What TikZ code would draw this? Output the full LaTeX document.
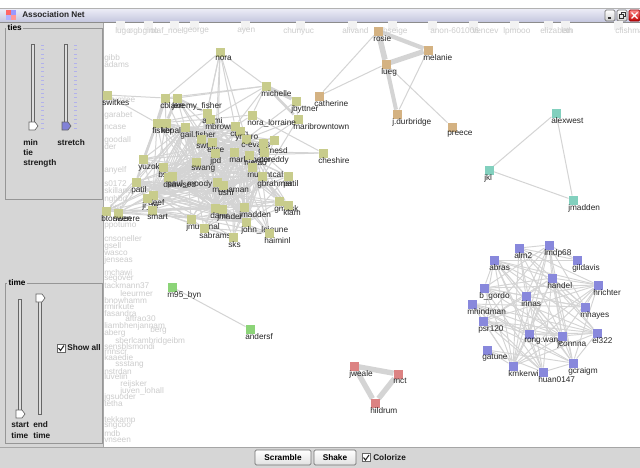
\documentclass[tikz,border=0pt]{standalone}
\usepackage{fontspec}
\setmainfont{Liberation Sans}
\pgfdeclarelayer{bg}
\pgfdeclarelayer{edges}
\pgfsetlayers{bg,edges,main}

\definecolor{panel}{RGB}{214,214,214}
\definecolor{boxline}{RGB}{150,150,150}
\definecolor{olive}{RGB}{200,204,140}
\definecolor{tanc}{RGB}{212,178,130}
\definecolor{nteal}{RGB}{130,208,190}
\definecolor{nblue}{RGB}{136,136,220}
\definecolor{nred}{RGB}{220,130,130}
\definecolor{ngreen}{RGB}{140,212,120}
\definecolor{edgec}{RGB}{212,212,212}
\definecolor{tbtop}{RGB}{238,239,248}
\definecolor{tbbot}{RGB}{196,198,222}
\definecolor{thumbblue}{RGB}{130,130,215}

\tikzset{
  sq/.style={minimum size=6.75pt, inner sep=0pt, outer sep=0pt},
  lbl/.style={anchor=north west, inner sep=0pt, font=\fontsize{6.2}{7}\selectfont, text=black!85},
  faint/.style={anchor=west, inner sep=0pt, font=\fontsize{6.2}{7}\selectfont, text=black!20},
  ghostsq/.style={minimum size=6.75pt, inner sep=0pt, fill=black!5},
  edge/.style={draw=edgec, line width=0.75pt},
  uitext/.style={anchor=west, inner sep=0pt, font=\bfseries\fontsize{6.2}{7}\selectfont, text=black!90},
  grouplbl/.style={anchor=west, inner sep=1pt, fill=panel, font=\bfseries\fontsize{6.2}{7}\selectfont},
  groupbox/.style={draw=boxline, line width=0.6pt},
  track/.style={draw=black!60, fill=panel!80, line width=0.5pt},
  thumb/.style={draw=black!60, line width=0.5pt},
  tick/.style={draw=black!25!blue!30, line width=0.6pt},
  button/.style={draw=black!55, line width=0.6pt, top color=white, bottom color=black!12, rounded corners=1pt},
  chk/.style={draw=black!60, fill=white, line width=0.5pt},
}

% one graph vertex: name, x, y, colour, caption
\newcommand\gv[5]{%
  \node[sq, fill=#4] (#1) at (#2,#3) {};
  \node[lbl] (#1-l) at ({#2-5},{#3+4}) {#5};}

% pentagon thumb of a vertical slider, pointing right
\newcommand\thumbat[3]{%
  \draw[thumb, fill=#3] ({#1-4},{#2-4}) -- ({#1+2},{#2-4}) -- ({#1+5},#2) -- ({#1+2},{#2+4}) -- ({#1-4},{#2+4}) -- cycle;}

\begin{document}
\begin{tikzpicture}[x=0.75pt,y=-0.75pt]
\useasboundingbox (0,0) rectangle (640,468);
\begin{pgfonlayer}{bg}
  \fill[white] (0,0) rectangle (640,468);
\end{pgfonlayer}

% ---------- title bar ----------
\shade[top color=tbtop, bottom color=tbbot] (0,8) rectangle (640,22);
\draw[black!45, line width=0.6pt] (0,22.3) -- (640,22.3);
\draw[black!30, line width=0.4pt] (0,8) -- (640,8);
\fill[red!60!white] (6,10) rectangle (11,15);
\fill[blue!40!white] (11,10) rectangle (16,15);
\fill[blue!30!white] (6,15) rectangle (11,20);
\fill[red!40!white] (11,15) rectangle (16,20);
\node[anchor=west, inner sep=0pt, font=\bfseries\fontsize{6.2}{7}\selectfont, text=black!85] (title) at (22,15) {Association Net};
% window buttons
\draw[black!55, line width=0.5pt, top color=white, bottom color=black!18, rounded corners=1pt] (605,10) rectangle (615,21);
\draw[black!80, line width=0.9pt] (607.5,18) -- (611,18);
\draw[black!55, line width=0.5pt, top color=white, bottom color=black!18, rounded corners=1pt] (617,10) rectangle (627,21);
\draw[black!80, line width=0.5pt] (619.5,14.5) rectangle (623.5,18.5);
\draw[black!80, line width=0.5pt] (621,14.5) -- (621,12.5) -- (625,12.5) -- (625,16.5) -- (623.5,16.5);
\draw[red!60!black, line width=0.5pt, top color=red!45, bottom color=red!75!black, rounded corners=1pt] (629,10) rectangle (640,21);
\draw[white, line width=1pt] (631.5,12.5) -- (637.5,18.5) (631.5,18.5) -- (637.5,12.5);

% ---------- left control panel ----------
\fill[panel] (0,22.6) rectangle (103.5,447);
\draw[black!35, line width=0.6pt] (103.5,22.6) -- (103.5,447);

% ties group
\draw[groupbox] (5,28) rectangle (102,199);
\node[grouplbl] (tiesl) at (6,28) {ties};
\draw[track] (31.5,44) rectangle (34.5,128);
\draw[track] (64.5,44) rectangle (67.5,128);
\foreach \t in {0,...,19} {
  \draw[tick] (41,{45.5+\t*4.35}) -- (43.5,{45.5+\t*4.35});
  \draw[tick] (74,{45.5+\t*4.35}) -- (76.5,{45.5+\t*4.35});
}
\thumbat{33}{126}{white}
\thumbat{66}{126}{thumbblue}
\node[uitext] (mintxt) at (23,143) {min};
\node[uitext] (tietxt) at (23,153) {tie};
\node[uitext] (strtxt) at (23,163) {strength};
\node[uitext] (stretchtxt) at (57,143) {stretch};

% time group
\draw[groupbox] (5,283) rectangle (102,443);
\node[grouplbl] (timel) at (7,283) {time};
\draw[track] (18.5,299) rectangle (21.5,411);
\draw[track] (38.5,301) rectangle (41.5,414);
\thumbat{20}{414}{white}
\thumbat{40}{298}{white}
\draw[chk] (57,344) rectangle (65,352);
\draw[black!85, line width=0.8pt] (58.5,348) -- (60.5,350.5) -- (64,345.5);
\node[uitext] (showall) at (67,348) {Show all};
\node[uitext] (starttxt) at (11,425) {start};
\node[uitext] (time1) at (11,436) {time};
\node[uitext] (endtxt) at (33,425) {end};
\node[uitext] (time2) at (33,436) {time};

% ---------- bottom bar ----------
\fill[panel] (0,447) rectangle (640,468);
\draw[black!35, line width=0.6pt] (0,447) -- (640,447);
\draw[button] (255,450) rectangle (311,465);
\node[anchor=center, inner sep=0pt, font=\bfseries\fontsize{6.2}{7}\selectfont] (scramble) at (283,457.5) {Scramble};
\draw[button] (314,450) rectangle (356,465);
\node[anchor=center, inner sep=0pt, font=\bfseries\fontsize{6.2}{7}\selectfont] (shake) at (335,457.5) {Shake};
\draw[chk] (362,453.5) rectangle (370,461.5);
\draw[black!85, line width=0.8pt] (363.5,457.5) -- (365.5,460) -- (369,455);
\node[uitext] (colorize) at (373,457.5) {Colorize};

% ---------- hidden (greyed) vertices along the edges ----------
\foreach \x in {120,148,174,194,245,300,352,392,432,473,514,548,565,618}
  \node[ghostsq] at (\x,25) {};
\foreach \x/\t in {115/lugo,128/σgbgino,150/olaf\_noel,183/george,237/ayen,283/chunyuc,
                   342/alivand,381/lbseige,430/anon-601006,472/vencev,503/lpmooo,540/elizabeth,
                   561/lan,615/cfishman}
  \node[faint] at (\x,31) {\t};
\foreach \x/\y/\t in {
  104/58/gibb,104/65/adams,106/100/plumlee,104/115/garabet,104/127/ncase,104/140/goodall,
  104/147/der,104/170/anyelf,104/184/s0172,104/191/skillane,104/199/nghbd,110/208/btg,
  104/226/ppotumo,104/239/cnsoneller,104/246/gsell,104/253/wasco,104/260/jenseas,
  104/273/mchawi,104/279/segover,104/286/tackmann37,120/294/leeurmer,104/301/bnowhamm,
  104/307/rmirkute,104/314/fasandra,125/319/aftrao30,104/326/liambhenjannam,150/330/berg,
  104/333/aberg,115/341/sberlcambridgeibm,104/347/sensblsmondi,104/352/rnnscr,
  104/358/kaaedie,115/365/ssstang,104/372/nstrdan,104/377/luvelin,120/384/reijsker,
  120/391/juven\_lohall,104/397/jgsuoder,104/404/tetha,104/420/tekkamp,104/426/sngcoo,
  104/434/mdb,104/440/vnseen}
  \node[faint] at (\x,\y) {\t};

% ---------- olive community ----------
\foreach \n/\x/\y/\t in {
  nora/220/52/nora, michelle/266/86/michelle, switkes/107/95/switkes,
  cblake/165/98/cblake, jfisher/177/98/jeremy\_fisher, jbyttner/296/101/jbyttner,
  maribrown/298/119/maribrowntown, noralor/252/115/nora\_lorraine, cheshire/323/153/cheshire,
  atomi/207/113/atomi, mbrown/210/119/mbrown, fisher/157/123/fisher, kbpal/166/123/kbpal,
  gailf/185/127/gail.fisher, craig/235/126/craig, ymgro/240/131/ymgro, swt/201/139/swt,
  elise/212/142/elise, cevans/246/139/c-evans, grimesd/263/143/grimesd, rx/274/140/,
  coreddy/264/152/coreddy, jpd/215/153/jpd, markp/234/152/mark\_peter, nietao/249/155/nietao,
  swang/196/162/swang, mutantcal/252/167/mutantcal, patilr/288/176/patil,
  gbrahmer/262/176/gbrahmer, yuzok/143/159/yuzok, bxs/163/167/bs, dsawsed/168/177/dsawsed,
  paulm/172/176/paul\_moody, patill/136/182/patil, mahaman/217/182/mahaman,
  ushr/223/185/ushr, deef/153/195/deef, jrte/147/198/jr\_te, scart/152/210/smart,
  btoneen/106/211/btoneen, sweere/118/213/sweere, damkr/215/208/danir, jmader/222/209/jmader,
  jmadden2/244/207/jmadden, gmask/279/201/gmask, klam/288/205/klam,
  johnl/246/222/john\_lejeune, jmummal/191/219/jmummal, sabrams/204/228/sabrams,
  sks/233/237/sks, haiminl/269/233/haiminl}
  {\gv{\n}{\x}{\y}{olive}{\t}}

% ---------- tan community ----------
\gv{rosie}{378}{31}{tanc}{rosie}
\gv{melanie}{428}{50}{tanc}{melanie}
\gv{lueg}{386}{64}{tanc}{lueg}
\gv{catherine}{319}{96}{tanc}{catherine}
\gv{jdurb}{397}{114}{tanc}{j.durbridge}
\gv{preece}{452}{127}{tanc}{preece}

% ---------- teal community ----------
\gv{alexwest}{556}{113}{nteal}{alexwest}
\gv{jkl}{489}{170}{nteal}{jkl}
\gv{jmadden}{573}{200}{nteal}{jmadden}

% ---------- green pair ----------
\gv{m95}{172}{287}{ngreen}{m95\_byn}
\gv{andersf}{250}{329}{ngreen}{andersf}

% ---------- red community ----------
\gv{jweale}{354}{366}{nred}{jweale}
\gv{mct}{398}{374}{nred}{mct}
\gv{hildrum}{375}{403}{nred}{hildrum}

% ---------- blue community ----------
\foreach \n/\x/\y/\t in {
  alm2/519/248/alm2, lmdp68/549/245/lmdp68, abras/494/260/abras, gildavis/577/260/gildavis,
  handel/552/278/handel, hrichter/598/285/hrichter, bgordo/484/288/b\_gordo,
  irinas/526/296/irinas, mhindman/472/304/mhindman, mhayes/585/307/mhayes,
  psr120/483/321/psr120, el322/597/333/el322, rongwang/529/334/rong.wang,
  jconnna/562/336/jconnna, gatune/487/350/gatune, kmkerwin/513/366/kmkerwin,
  gcraigm/573/363/gcraigm, huan/543/372/huan0147}
  {\gv{\n}{\x}{\y}{nblue}{\t}}

% ---------- ties ----------
\begin{pgfonlayer}{edges}
  % dense core of the olive community
  \def\core{atomi,mbrown,fisher,kbpal,gailf,craig,ymgro,swt,elise,cevans,grimesd,rx,coreddy,jpd,markp,nietao,swang,mutantcal,patilr,gbrahmer,yuzok,bxs,dsawsed,paulm,patill,mahaman,ushr,deef,jrte,scart,btoneen,sweere,damkr,jmader,jmadden2,gmask,klam,johnl,jmummal,sabrams,sks,haiminl}
  \foreach \a [count=\i] in \core {
    \foreach \b [count=\j] in \core {
      \ifnum\j>\i
        \pgfmathtruncatemacro\h{mod(\i*7+\j*5+\i*\j,5)}
        \ifnum\h=0 \draw[edge] (\a) -- (\b); \fi
      \fi
    }
  }
  % ties from the outer olive vertices
  \foreach \a/\b in {nora/cblake,nora/michelle,nora/atomi,nora/jpd,nora/swt,nora/craig,
      nora/mahaman,nora/cevans,michelle/cblake,michelle/jfisher,michelle/craig,michelle/noralor,
      michelle/mbrown,switkes/cblake,switkes/fisher,cblake/jfisher,cblake/kbpal,cblake/yuzok,
      cblake/swang,jfisher/atomi,jfisher/gailf,jfisher/swt,jfisher/jpd,jfisher/markp,
      jbyttner/maribrown,jbyttner/cevans,maribrown/grimesd,maribrown/cevans,maribrown/jmadden2,
      noralor/cheshire,noralor/mbrown,noralor/elise,cheshire/coreddy,cheshire/nietao,
      fisher/kbpal,fisher/yuzok,kbpal/gailf}
    \draw[edge] (\a) -- (\b);
  \draw[edge, line width=2.6pt] (michelle) -- (jbyttner);
  \draw[edge, line width=2pt] (michelle) -- (maribrown);
  \draw[edge, line width=2.6pt] (cblake) -- (fisher);
  \draw[edge, line width=2pt] (jfisher) -- (kbpal);
  \draw[edge, line width=1.6pt] (jfisher) -- (atomi);
  \draw[edge, line width=1.6pt] (fisher) -- (patill);
  \draw[edge, line width=1.6pt] (swt) -- (jpd);
  \draw[edge, line width=1.6pt] (gailf) -- (swang);
  % tan community
  \draw[edge, line width=4.2pt] (rosie) -- (lueg);
  \draw[edge, line width=3.2pt] (rosie) -- (melanie);
  \draw[edge, line width=3.8pt] (lueg) -- (melanie);
  \draw[edge, line width=3pt] (lueg) -- (jdurb);
  \draw[edge, line width=1.5pt] (rosie) -- (jdurb);
  \draw[edge] (melanie) -- (jdurb);
  \draw[edge] (lueg) -- (preece);
  \draw[edge] (catherine) -- (rosie);
  \draw[edge] (catherine) -- (lueg);
  % teal community
  \draw[edge] (alexwest) -- (jkl);
  \draw[edge] (alexwest) -- (jmadden);
  \draw[edge] (jkl) -- (jmadden);
  % green pair
  \draw[edge] (m95) -- (andersf);
  % red community
  \draw[edge, line width=4pt] (jweale) -- (mct);
  \draw[edge, line width=4pt] (mct) -- (hildrum);
  \draw[edge, line width=4pt] (hildrum) -- (jweale);
  % blue community
  \def\blues{alm2,lmdp68,abras,gildavis,handel,hrichter,bgordo,irinas,mhindman,mhayes,psr120,el322,rongwang,jconnna,gatune,kmkerwin,gcraigm,huan}
  \foreach \a [count=\i] in \blues {
    \foreach \b [count=\j] in \blues {
      \ifnum\j>\i
        \pgfmathtruncatemacro\h{mod(\i*3+\j*2+\i*\j,6)}
        \ifnum\h>0 \draw[edge, line width=0.7pt] (\a) -- (\b); \fi
      \fi
    }
  }
\end{pgfonlayer}
\end{tikzpicture}
\end{document}
